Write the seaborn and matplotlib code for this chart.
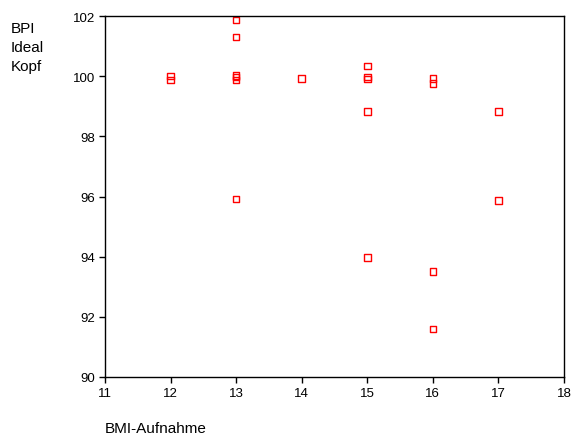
import matplotlib
matplotlib.use("Agg")
import matplotlib.pyplot as plt
import seaborn as sns
import pandas as pd

bmi = [12, 12, 13, 13, 13, 13, 13, 13, 14, 15, 15, 15, 15, 15, 16, 16, 16, 16, 17, 17]
bpi = [100.01, 99.87, 101.87, 101.3, 100.02, 99.97, 99.87, 95.92, 99.93,
       100.34, 99.98, 99.9, 98.82, 93.98, 99.92, 99.76, 93.5, 91.6, 98.82, 95.87]

xticks = [11, 12, 13, 14, 15, 16, 17, 18]
yticks = [90, 92, 94, 96, 98, 100, 102]

df = pd.DataFrame({"BMI-Aufnahme": bmi, "BPI": bpi})

sns.set_style("white")
plt.rcParams["font.family"] = ["Liberation Sans", "DejaVu Sans"]
plt.rcParams["text.color"] = "black"

fig = plt.figure(figsize=(5.72, 4.39), dpi=100)
ax = fig.add_axes([105/572, 1-378/439, (564-105)/572, (378-17)/439])

sns.scatterplot(data=df, x="BMI-Aufnahme", y="BPI", ax=ax, marker="s", s=22,
                fc="none", ec="red", linewidth=1.0, legend=False)

ax.set_xlim(11, 18)
ax.set_ylim(90, 102)
ax.set_xticks(xticks)
ax.set_yticks(yticks)
ax.set_xticklabels([str(t) for t in xticks], fontsize=9.5)
ax.set_yticklabels([str(t) for t in yticks], fontsize=9.5)
ax.tick_params(axis="both", direction="out", length=4, width=1, colors="black",
               labelcolor="black", left=True, bottom=True, pad=3)
for s in ax.spines.values():
    s.set_visible(True)
    s.set_color("black")
    s.set_linewidth(1)
ax.set_xlabel("")
ax.set_ylabel("")

fig.text(11/572, 1-22/439, "BPI\nIdeal\nKopf", ha="left", va="top", fontsize=11,
         linespacing=1.45, color="black")
fig.text(105/572, 1-429/439, "BMI-Aufnahme", ha="left", va="center", fontsize=11,
         color="black")

fig.savefig("out.png", dpi=100)
